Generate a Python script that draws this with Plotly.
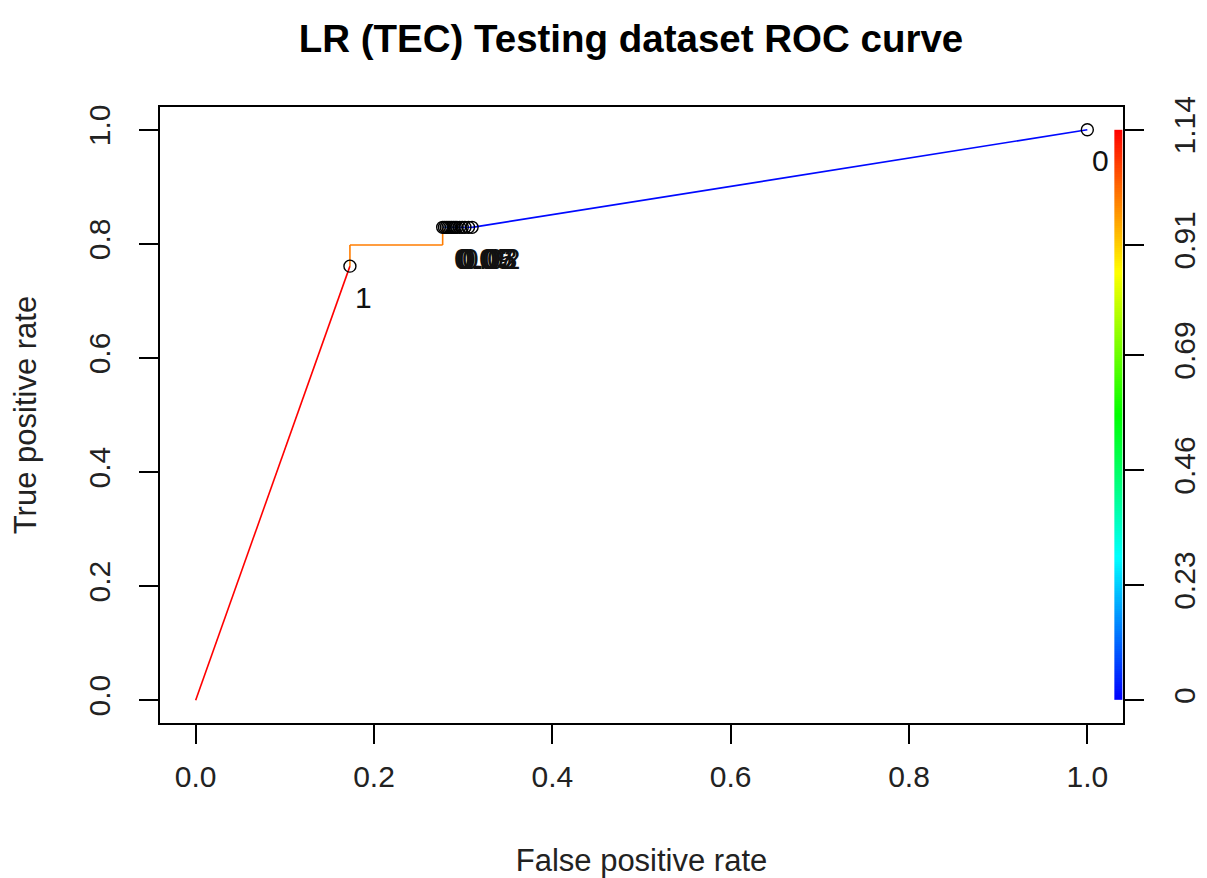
import numpy as np
import plotly.graph_objects as go
from plotly.colors import sample_colorscale

# ROC curve points and the cutoff at each point
fpr = [0.0, 0.173, 0.173, 0.277, 0.277, 0.279, 0.281, 0.283, 0.285, 0.287, 0.289, 0.291,
       0.293, 0.296, 0.299, 0.302, 0.306, 0.310, 1.0]
tpr = [0.0, 0.761, 0.798, 0.798, 0.829, 0.829, 0.829, 0.829, 0.829, 0.829, 0.829, 0.829,
       0.829, 0.829, 0.829, 0.829, 0.829, 0.829, 1.0]
cutoffs = [1.14, 1.0, 1.0, 1.0, 0.09, 0.08, 0.08, 0.07, 0.07, 0.06, 0.06, 0.05,
           0.05, 0.04, 0.03, 0.03, 0.02, 0.01, 0.0]

# points marked with a circle
mark_x = [0.173, 0.277, 0.279, 0.281, 0.283, 0.285, 0.287, 0.289, 0.291, 0.293,
          0.296, 0.299, 0.302, 0.306, 0.310, 1.0]
mark_y = [0.761, 0.829, 0.829, 0.829, 0.829, 0.829, 0.829, 0.829, 0.829, 0.829,
          0.829, 0.829, 0.829, 0.829, 0.829, 1.0]

# printed cutoff labels (the middle ones overlap into one blob)
label_x = [0.173, 0.284, 0.286, 0.288, 0.290, 0.293, 1.0]
label_y = [0.761, 0.829, 0.829, 0.829, 0.829, 0.829, 1.0]
label_text = ["1", "0.09", "0.07", "0.05", "0.03", "0.02", "0"]

# colour key
key_ticks = [0, 0.23, 0.46, 0.69, 0.91, 1.14]
key_max = 1.14

rainbow = [[0.0, "#0000FF"], [0.25, "#00FFFF"], [0.5, "#00FF00"],
           [0.75, "#FFFF00"], [1.0, "#FF0000"]]
font = "Liberation Sans, Arial, sans-serif"

fig = go.Figure()

# coloured segments, colour taken from the cutoff at the start of the segment
for i in range(len(fpr) - 1):
    col = sample_colorscale(rainbow, [cutoffs[i] / key_max])[0]
    fig.add_trace(go.Scatter(x=[fpr[i], fpr[i + 1]], y=[tpr[i], tpr[i + 1]],
                             mode="lines", line=dict(color=col, width=1.6),
                             hoverinfo="skip", showlegend=False))

fig.add_trace(go.Scatter(x=mark_x, y=mark_y, mode="markers",
                         marker=dict(symbol="circle-open", size=12, color="black",
                                     line=dict(width=1.4, color="black")),
                         showlegend=False))

for x, y, t in zip(label_x, label_y, label_text):
    fig.add_annotation(x=x, y=y, xref="x", yref="y", text=t, showarrow=False,
                       xanchor="left", yanchor="middle", xshift=3, yshift=-31,
                       font=dict(family=font, size=30, color="#111"))

# colour strip inside the right edge of the box
edges = np.linspace(0, key_max, 257)
mids = (edges[:-1] + edges[1:]) / 2
fig.add_trace(go.Heatmap(x=[1.0303, 1.0395], y=edges, z=mids.reshape(-1, 1),
                         colorscale=rainbow, zmin=0, zmax=key_max,
                         showscale=False, hoverinfo="skip", yaxis="y2"))

axis_common = dict(showline=True, linecolor="black", linewidth=1.5, mirror=True,
                   ticks="outside", ticklen=19, tickwidth=1.5, tickcolor="black",
                   showgrid=False, zeroline=False, automargin=False,
                   tickfont=dict(family=font, size=30, color="#222"))

fig.update_layout(
    width=1199, height=870,
    plot_bgcolor="white", paper_bgcolor="white",
    margin=dict(l=152, r=84, t=99, b=155),
    title=dict(text="<b>LR (TEC) Testing dataset ROC curve</b>",
               x=623 / 1199, xanchor="center", xref="container",
               y=1 - 31 / 870, yanchor="middle", yref="container",
               font=dict(family=font, size=38.5, color="black")),
    xaxis=dict(range=[-0.04, 1.04], tickvals=[0, 0.2, 0.4, 0.6, 0.8, 1.0],
               ticktext=["0.0", "0.2", "0.4", "0.6", "0.8", "1.0"],
               ticklabelstandoff=7,
               title=dict(text="False positive rate", standoff=60,
                          font=dict(family=font, size=31, color="#222")),
               **axis_common),
    yaxis=dict(range=[-0.04, 1.04], tickvals=[0, 0.2, 0.4, 0.6, 0.8, 1.0],
               ticktext=["0.0", "0.2", "0.4", "0.6", "0.8", "1.0"], tickangle=-90,
               ticklabelstandoff=17,
               title=dict(text="True positive rate", standoff=42,
                          font=dict(family=font, size=31, color="#222")),
               **axis_common),
    yaxis2=dict(overlaying="y", side="right", range=[-0.04 * key_max, 1.04 * key_max],
                tickvals=key_ticks, ticktext=[str(t) for t in key_ticks], tickangle=-90,
                ticklabelstandoff=15, automargin=False,
                showline=False, ticks="outside", ticklen=20, tickwidth=1.5,
                tickcolor="black", showgrid=False, zeroline=False,
                tickfont=dict(family=font, size=30, color="#222")),
)

fig.write_html("out.html")
